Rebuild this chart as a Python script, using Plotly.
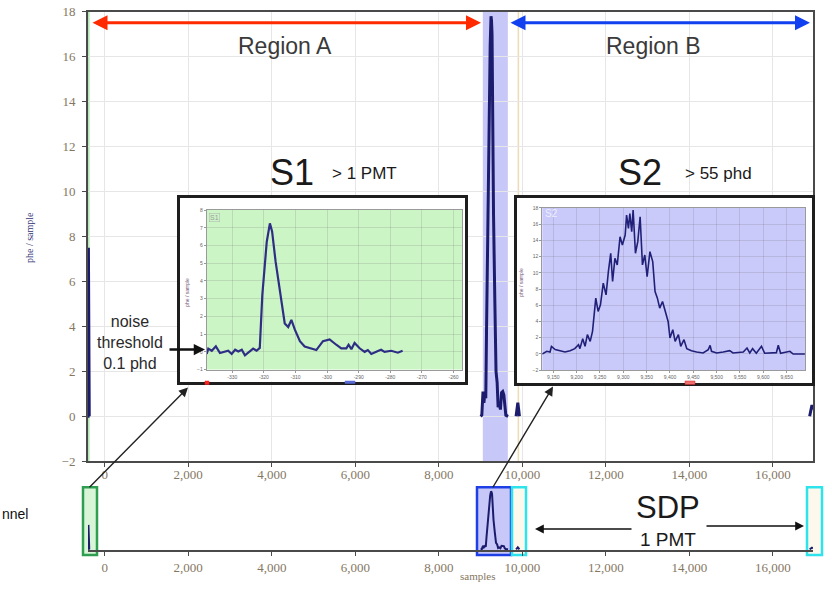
import plotly.graph_objects as go

W, H = 832, 589

# ---------------- data ----------------
# summed waveform (samples vs phe/sample); None separates the recorded pulses
main_x = [-400, -394, -390, -386, -382, -378, -374, -370, -362, None,
          9000, 9030, 9058, 9080, 9102, 9125, 9142, 9170, 9204, 9230, 9250, 9262, 9275, 9285,
          9310, 9341, 9370, 9397, 9420, 9445, 9475, 9502, 9530, 9557, 9580, 9605, 9659, None,
          9850, 9870, 9892, 9912, 9930, None,
          16880, 16910, 16935, 16960]
main_y = [0, 0.1, 7.5, 2.5, 7.3, 1.2, 0.3, 0, 0, None,
          0, 0.05, 1.1, 0.6, 1.0, 0.8, 3.7, 8.5, 14.2, 16.5, 17.8, 17.6, 17.0, 14.0,
          9.0, 5.2, 2.0, 1.5, 0.4, 0.6, 0.3, 1.05, 1.1, 0.95, 0.3, 0.05, 0, None,
          0, 0.4, 0.6, 0.3, 0, None,
          0, 0.3, 0.5, 0.3]

# S1 zoom
s1_x = [-338.1, -337.6, -336.5, -335.2, -333.9, -331.3, -330.2, -329.1, -328.1, -327.0,
        -326.0, -324.4, -323.4, -322.3, -321.3, -320.5, -319.1, -318.1, -317.4, -316.3,
        -315.0, -313.4, -312.3, -311.3, -310.2, -308.6, -307.1, -305.0, -303.4, -301.3,
        -299.2, -297.1, -295.5, -293.9, -293.2, -292.3, -291.3, -289.7, -288.1, -287.1,
        -286.0, -283.9, -282.9, -281.8, -279.7, -277.6, -276.1]
s1_y = [-0.12, 0.18, 0.06, 0.31, -0.07, 0.06, -0.12, 0.12, 0.02, 0.12,
        -0.2, 0.06, 0.18, 0.06, 0.22, 3.2, 6.2, 7.25, 6.8, 5.1,
        3.6, 1.6, 1.4, 1.8, 1.25, 0.6, 0.3, 0.2, 0.1, 0.6,
        0.7, 0.4, 0.2, 0.2, 0.4, 0.15, 0.5, 0.2, 0.0, 0.1,
        -0.12, 0.05, 0.12, 0.0, 0.06, -0.05, 0.06]

# S2 zoom
s2_x = [9126, 9136, 9143, 9146, 9154, 9164, 9175, 9186, 9196, 9204, 9207, 9213, 9218, 9223,
        9229, 9234, 9237, 9241, 9246, 9251, 9257, 9263, 9268, 9273, 9277, 9282, 9287, 9293,
        9298, 9304, 9307, 9311, 9314, 9318, 9321, 9326, 9331, 9336, 9341, 9346, 9351, 9357,
        9363, 9368, 9373, 9378, 9384, 9389, 9396, 9400, 9406, 9411, 9418, 9423, 9430, 9436,
        9446, 9457, 9471, 9482, 9486, 9489, 9500, 9514, 9528, 9535, 9557, 9565, 9571, 9577,
        9585, 9596, 9603, 9628, 9632, 9637, 9657, 9664, 9689]
s2_y = [0.0, 0.33, 0.25, 0.94, 0.54, 0.41, 0.25, 0.41, 0.66, 1.15, 0.66, 1.89, 0.94, 2.38,
        1.56, 2.79, 4.83, 6.88, 5.24, 6.06, 8.72, 7.28, 10.15, 12.40, 8.92, 11.78, 10.97, 14.44,
        13.42, 14.65, 17.10, 15.46, 17.30, 15.06, 17.71, 12.40, 13.83, 16.90, 10.97, 12.19, 9.53, 12.60,
        11.37, 7.69, 6.88, 5.65, 6.47, 5.44, 4.01, 1.97, 2.99, 1.56, 2.38, 0.94, 1.76, 0.66,
        0.41, 0.25, 0.13, 0.54, 1.07, 0.33, 0.13, 0.25, 0.41, 0.13, 0.25, 0.74, 0.13, 0.66,
        0.09, 0.94, 0.09, 0.17, 1.07, 0.09, 0.33, 0.0, 0.0]

main_xticks = [0, 2000, 4000, 6000, 8000, 10000, 12000, 14000, 16000]
main_xlabels = ["0", "2,000", "4,000", "6,000", "8,000", "10,000", "12,000", "14,000", "16,000"]
main_yticks = [-2, 0, 2, 4, 6, 8, 10, 12, 14, 16, 18]
s1_xticks = [-330, -320, -310, -300, -290, -280, -270, -260]
s1_xlabels = ["-330", "-320", "-310", "-300", "-290", "-280", "-270", "-260"]
s1_yticks = [-1, 0, 1, 2, 3, 4, 5, 6, 7, 8]
s2_xticks = [9150, 9200, 9250, 9300, 9350, 9400, 9450, 9500, 9550, 9600, 9650]
s2_xlabels = ["9,150", "9,200", "9,250", "9,300", "9,350", "9,400", "9,450", "9,500", "9,550",
              "9,600", "9,650"]
s2_yticks = [-2, 0, 2, 4, 6, 8, 10, 12, 14, 16, 18]

# ---------------- helpers ----------------
# the page is photographed with a slight vertical squeeze; these undo it
Y_SCALE = 0.9778
Y_OFF = 6.24

def px(x):
    return x / W

def py(y):
    return 1 - ((y - Y_OFF) / Y_SCALE) / H

NAVY = "#1c1c6e"
TICKC = "#85775f"
SERIF = "Liberation Serif"
SANS = "Liberation Sans"

fig = go.Figure()
fig.add_trace(go.Scatter(x=main_x, y=main_y, mode="lines", line=dict(color=NAVY, width=3),
                         xaxis="x", yaxis="y", hoverinfo="skip", connectgaps=False))
fig.add_trace(go.Scatter(x=main_x, y=main_y, mode="lines", line=dict(color=NAVY, width=2),
                         xaxis="x2", yaxis="y2", hoverinfo="skip", connectgaps=False))
fig.add_trace(go.Scatter(x=[], y=[], mode="lines", xaxis="x3", yaxis="y3", hoverinfo="skip"))
fig.add_trace(go.Scatter(x=s1_x, y=s1_y, mode="lines", line=dict(color="#2e2e85", width=2.2),
                         xaxis="x4", yaxis="y4", hoverinfo="skip"))
fig.add_trace(go.Scatter(x=[], y=[], mode="lines", xaxis="x5", yaxis="y5", hoverinfo="skip"))
fig.add_trace(go.Scatter(x=s2_x, y=s2_y, mode="lines", line=dict(color="#202078", width=1.6),
                         xaxis="x6", yaxis="y6", hoverinfo="skip"))

main_ax = dict(showgrid=True, gridcolor="#e6e6e6", gridwidth=1, zeroline=False,
               showline=True, mirror=True, linecolor="#4a4a4a", linewidth=2,
               ticks="outside", ticklen=4, tickcolor="#4a4a4a",
               tickfont=dict(family=SERIF, size=13, color=TICKC), fixedrange=True)

frame_ax = dict(range=[0, 1], showgrid=False, zeroline=False, showticklabels=False,
                showline=True, mirror=True, linecolor="#1e1e1e", linewidth=3, ticks="",
                fixedrange=True)

inset_ax = dict(showgrid=True, gridcolor="rgba(110,110,110,0.2)", zeroline=False,
                showline=True, mirror=True, linecolor="#9a9a9a", linewidth=1,
                ticks="outside", ticklen=2, tickcolor="#999",
                tickfont=dict(family=SANS, size=5, color="#666"), fixedrange=True)

layout = dict(
    width=W, height=H, autosize=False,
    margin=dict(l=0, r=0, t=0, b=0, pad=0),
    paper_bgcolor="white", plot_bgcolor="white",
    showlegend=False,
    font=dict(family=SANS),
    xaxis=dict(main_ax, domain=[px(88), px(813)], range=[-400, 16960], anchor="y",
               tickvals=main_xticks, ticktext=main_xlabels, ticklabelstandoff=-4),
    yaxis=dict(main_ax, domain=[py(462), py(11)], range=[-2, 18], anchor="x",
               tickvals=main_yticks, ticklabelstandoff=4),
    xaxis2=dict(domain=[px(88), px(813)], range=[-400, 16960], anchor="y2",
                showgrid=False, zeroline=False, showline=True, mirror=False,
                linecolor="#4a4a4a", linewidth=1.5, ticks="outside", ticklen=4,
                tickcolor="#4a4a4a", tickvals=main_xticks, ticktext=main_xlabels,
                tickfont=dict(family=SERIF, size=13, color=TICKC), fixedrange=True,
                ticklabelstandoff=1),
    yaxis2=dict(domain=[py(551), py(490)], range=[-0.2, 18.5], anchor="x2",
                showgrid=False, zeroline=False, showline=False, showticklabels=False,
                ticks="", fixedrange=True),
    xaxis3=dict(frame_ax, domain=[px(180), px(465)], anchor="y3"),
    yaxis3=dict(frame_ax, domain=[py(382), py(198)], anchor="x3"),
    xaxis4=dict(inset_ax, domain=[px(206.7), px(462)], range=[-338.1, -257.3], anchor="y4",
                tickvals=s1_xticks, ticktext=s1_xlabels),
    yaxis4=dict(inset_ax, domain=[py(370), py(210)], range=[-1, 8], anchor="x4",
                tickvals=s1_yticks),
    xaxis5=dict(frame_ax, domain=[px(516.7), px(811.7)], anchor="y5"),
    yaxis5=dict(frame_ax, domain=[py(383), py(197.7)], anchor="x5"),
    xaxis6=dict(inset_ax, domain=[px(542.3), px(805)], range=[9126.4, 9689.3], anchor="y6",
                tickvals=s2_xticks, ticktext=s2_xlabels),
    yaxis6=dict(inset_ax, domain=[py(370.7), py(207.7)], range=[-2, 18], anchor="x6",
                tickvals=s2_yticks),
)
fig.update_layout(**layout)

shapes = []
# main-plot highlight bands
shapes.append(dict(type="rect", xref="x", yref="y", x0=9054, x1=9653, y0=-3, y1=19,
                   fillcolor="#c8c8f8", line=dict(width=0), layer="below"))
shapes.append(dict(type="rect", xref="x", yref="y", x0=-400, x1=-362, y0=-3, y1=19,
                   fillcolor="#b3e8b3", line=dict(width=0), layer="below"))
shapes.append(dict(type="line", xref="x", yref="y", x0=9905, x1=9905, y0=-3, y1=19,
                   line=dict(color="#eedcb4", width=1.5), layer="below"))
# inset backgrounds
shapes.append(dict(type="rect", xref="x4", yref="y4", x0=-400, x1=-200, y0=-5, y1=20,
                   fillcolor="#ccf5c6", line=dict(width=0), layer="below"))
shapes.append(dict(type="rect", xref="x6", yref="y6", x0=9000, x1=9800, y0=-5, y1=30,
                   fillcolor="#c9c9fa", line=dict(width=0), layer="below"))
# boxes in the bottom strip
def pbox(x0, x1, y0, y1, line, fill):
    return dict(type="rect", xref="paper", yref="paper", x0=px(x0), x1=px(x1),
                y0=py(y1), y1=py(y0), line=dict(color=line, width=2.5), fillcolor=fill,
                layer="below")
shapes.append(pbox(83, 97, 488, 556, "#2f9e50", "#d8f5d8"))
shapes.append(pbox(477, 511, 488, 556, "#1f3fe6", "#c8c8f8"))
shapes.append(pbox(512, 526, 488, 556, "#2fe3ec", "#fdf8ec"))
shapes.append(pbox(807, 822, 488, 556, "#2fe3ec", "#fdf8ec"))
# little range markers under the insets
def mark(x0, x1, y0, y1, color, lc):
    return dict(type="rect", xref="paper", yref="paper", x0=px(x0), x1=px(x1),
                y0=py(y1), y1=py(y0), fillcolor=color, line=dict(color=lc, width=0.5),
                layer="above")
shapes.append(mark(205, 209, 381.5, 385, "#ff2020", "#ff2020"))
shapes.append(mark(345, 355, 381.5, 384, "#5a6ad8", "#5a6ad8"))
shapes.append(mark(685, 695, 381.5, 385, "#f07070", "#d02020"))
fig.update_layout(shapes=shapes)

ann = []
def txt(x, y, s, size, color="#2a2a2a", xanchor="center", family=SANS, angle=0):
    ann.append(dict(xref="paper", yref="paper", x=px(x), y=py(y), text=s, showarrow=False,
                    xanchor=xanchor, yanchor="middle", textangle=angle,
                    font=dict(family=family, size=size, color=color)))

def arrow(hx, hy, tx, ty, color, width, size, both=False):
    ann.append(dict(xref="paper", yref="paper", x=px(hx), y=py(hy), text="",
                    showarrow=True, axref="pixel", ayref="pixel", ax=tx - hx,
                    ay=(ty - hy) / Y_SCALE,
                    arrowcolor=color, arrowwidth=width, arrowhead=2, arrowsize=size,
                    startarrowhead=2, startarrowsize=size,
                    arrowside="end+start" if both else "end", standoff=0, startstandoff=0))

arrow(481, 22, 91, 22, "#ff2a00", 3, 1.0, both=True)
arrow(810, 22, 509, 22, "#1040f0", 3, 1.0, both=True)
txt(285, 45, "Region A", 23, "#3a3a3a")
txt(653, 45, "Region B", 23, "#3a3a3a")
txt(292, 172, "S1", 36, "#1a1a1a")
txt(330, 173, "&gt; 1 PMT", 17, "#1a1a1a", xanchor="left")
txt(640, 172, "S2", 36, "#1a1a1a")
txt(683, 173, "&gt; 55 phd", 17, "#1a1a1a", xanchor="left")
txt(130, 343, "noise<br>threshold<br>0.1 phd", 16, "#2a2a2a")
arrow(205, 350, 168, 350, "#111111", 2.5, 0.9)
arrow(188, 388, 88, 487, "#222222", 1.4, 1.3)
arrow(553, 387, 492, 487, "#222222", 1.4, 1.3)
txt(668, 508, "SDP", 31, "#1a1a1a")
txt(668, 540.5, "1 PMT", 19, "#1a1a1a")
arrow(535, 530, 633, 530, "#111111", 1.6, 1.1)
arrow(804, 527, 705, 527, "#111111", 1.6, 1.1)
txt(0, 515, "nnel", 14, "#111111", xanchor="left")
txt(477, 577, "samples", 11, TICKC, family=SERIF)
txt(30, 237, "phe / sample", 10, "#33337a", family=SERIF, angle=-90)
txt(187, 293, "phe / sample", 5, "#7a5a7a", angle=-90)
txt(521, 283, "phe / sample", 5, "#7a5a7a", angle=-90)
ann.append(dict(xref="paper", yref="paper", x=px(209), y=py(217), text="S1", showarrow=False,
                xanchor="left", yanchor="middle", font=dict(size=7, color="#9a9a9a"),
                bordercolor="#b0b0b0", borderwidth=0.5, borderpad=0.5))
ann.append(dict(xref="paper", yref="paper", x=px(543), y=py(213), text="S2", showarrow=False,
                xanchor="left", yanchor="middle", font=dict(size=10, color="#eeeefc")))
fig.update_layout(annotations=ann)

fig.write_html("out.html")
